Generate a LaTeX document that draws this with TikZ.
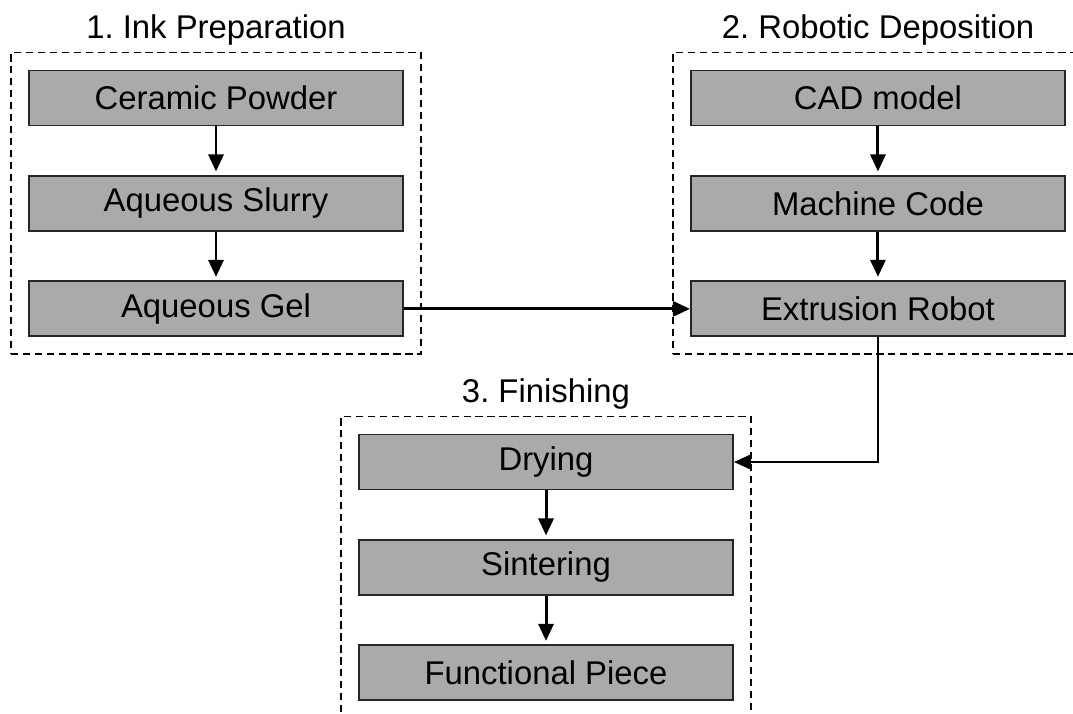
\documentclass[tikz,border=0pt]{standalone}
\usepackage{fontspec}
\setmainfont{Liberation Sans}
\usepackage{tikz}
\usetikzlibrary{positioning,fit,arrows.meta}
\definecolor{stagecolor}{RGB}{170,170,170}
\frenchspacing

\begin{document}
\begin{tikzpicture}[
			stage/.style={rectangle, draw=black!85, fill=stagecolor, line width=1.1pt, minimum width=7.48cm, minimum height=1.1cm, inner sep=0pt, font=\fontsize{18.7}{22}\selectfont},
			group/.style={draw, line width=1.05pt, dash pattern=on 4.2pt off 2.6pt, inner sep=0.34cm},
			heading/.style={inner sep=0pt, font=\fontsize{18.7}{22}\selectfont},
			flow/.style={-{Triangle[length=0.34cm,width=0.3cm]}, line width=1.7pt},
		]

		\useasboundingbox (0,0) rectangle (21.46,-14.26);
		\clip (0,0) rectangle (21.46,-14.26);

		\node[stage] (cp) at (4.32,-1.96)          {Ceramic Powder};
		\node[stage] (slurry) [below=0.97cm of cp]  {Aqueous Slurry};
		\node[stage] (gel)    [below=0.97cm of slurry] {Aqueous Gel};

		\node[stage] (cad)   [right=5.72cm of cp]     {CAD model};
		\node[stage] (code)  [below=0.97cm of cad]    {Machine Code};
		\node[stage] (robot) [below=0.97cm of code]   {Extrusion Robot};

		\node[stage] (dry) at (10.92,-9.24)           {Drying};
		\node[stage] (sinter) [below=0.97cm of dry]   {Sintering};
		\node[stage] (piece)  [below=0.97cm of sinter] {Functional Piece};

		\node[group, fit=(cp)(slurry)(gel)] (ink) {};
		\node[group, fit=(cad)(code)(robot)] (dep) {};
		\node[group, fit=(dry)(sinter)(piece)] (fin) {};

		\node[heading, above=0.12cm of ink] (inkT) {1. Ink Preparation};
		\node[heading, above=0.12cm of dep] (depT) {2. Robotic Deposition};
		\node[heading, above=0.12cm of fin] (finT) {3. Finishing};

		\draw[flow, shorten >=2pt] (cp) -- (slurry);
		\draw[flow, shorten >=2pt] (slurry) -- (gel);
		\draw[flow, shorten >=2pt] (cad) -- (code);
		\draw[flow, shorten >=2pt] (code) -- (robot);
		\draw[flow, shorten >=2pt] (dry) -- (sinter);
		\draw[flow, shorten >=2pt] (sinter) -- (piece);
		\draw[flow] (gel) -- (robot);
		\draw[flow, line width=1.1pt] (robot) |- (dry);

		\end{tikzpicture}
\end{document}
